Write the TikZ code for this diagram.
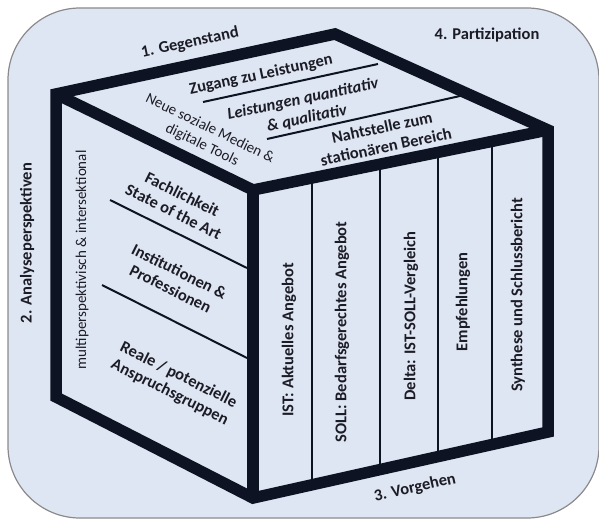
\documentclass[tikz,border=0pt]{standalone}
\usepackage{fontspec}
\setmainfont{Carlito}
\usetikzlibrary{calc}
\definecolor{bg}{HTML}{DFE6F3}
\definecolor{rim}{HTML}{8A8A8A}
\definecolor{ink}{HTML}{0D1322}
\definecolor{txt}{HTML}{1C1C26}
\tikzset{edge/.style={line width=11.5pt, ink, line join=miter},
         split/.style={line width=2pt, ink},
         lbl/.style={text=txt, inner sep=0pt, align=center, font=\fontsize{16.5}{19.5}\selectfont\bfseries},
         plain lbl/.style={lbl, font=\fontsize{15}{18}\selectfont}}

\begin{document}
\begin{tikzpicture}[x=1pt,y=-1pt]
\useasboundingbox (0,0) rectangle (599,519);
\draw[rim, fill=bg, line width=1.2pt, rounded corners=72pt] (8,8) rectangle (599,518);

% corners of the cube
\coordinate (T) at (335,34);
\coordinate (L) at (56,94);
\coordinate (R) at (548,130);
\coordinate (F) at (253,190);
\coordinate (BL) at (56,397);
\coordinate (BF) at (253,498);
\coordinate (BR) at (548,432);

% thin separators
\draw[split] (203,102) -- (378,64);
\draw[split] (267,139) -- (460,96);
\draw[split] (110,200) -- (247,268);
\draw[split] (102,285) -- (247,358);
\foreach \t in {0.2,0.43,0.627,0.81}
    \draw[split] ($(F)!\t!(R)$) -- ($(BF)!\t!(BR)$);

% cube
\draw[edge] (L) -- (T) -- (R) -- (BR) -- (BF) -- (BL) -- cycle;
\draw[edge] (L) -- (F) -- (R);
\draw[edge] (F) -- (BF);

% dimensions
\node[lbl,rotate=12] (gegenstand) at (190,43) {1. Gegenstand};
\node[lbl] (partizipation) at (487,35) {4. Partizipation};
\node[lbl,rotate=90] (analyse) at (27,243) {2. Analyseperspektiven};
\node[lbl,rotate=12.5] (vorgehen) at (415,488) {3. Vorgehen};

% top face
\node[lbl,rotate=12] (zugang) at (261,75) {Zugang zu Leistungen};
\node[lbl,rotate=12,font=\fontsize{16.5}{19.5}\selectfont\bfseries\itshape] (leistungen) at (305,109) {Leistungen quantitativ\\\& qualitativ};
\node[lbl,rotate=12] (nahtstelle) at (384,137) {Nahtstelle zum\\station\"aren Bereich};
\node[plain lbl,rotate=-26] (medien) at (206,137) {Neue soziale Medien \&\\digitale Tools};

% left face
\node[plain lbl,rotate=90] (multi) at (82,260) {multiperspektivisch \& intersektional};
\node[lbl,rotate=-26.5] (fachlich) at (178,203) {Fachlichkeit\\State of the Art};
\node[lbl,rotate=-26.5] (institution) at (175,280) {Institutionen \&\\Professionen};
\node[lbl,rotate=-26.5] (reale) at (174,384) {Reale / potenzielle\\Anspruchsgruppen};

% front face
\node[lbl,rotate=90] (ist) at (289,340) {IST: Aktuelles Angebot};
\node[lbl,rotate=90] (soll) at (342,332) {SOLL: Bedarfsgerechtes Angebot};
\node[lbl,rotate=90] (delta) at (411,316) {Delta: IST-SOLL-Vergleich};
\node[lbl,rotate=90] (empf) at (463,302) {Empfehlungen};
\node[lbl,rotate=90] (synth) at (518,295) {Synthese und Schlussbericht};
\end{tikzpicture}
\end{document}
